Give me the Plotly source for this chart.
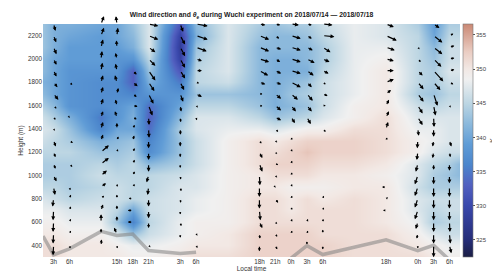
import plotly.graph_objects as go

# ---------------- data ----------------
# theta_e grid: heights 300..2300 m every 100 m, one list per time (hours from start)
grid_heights = list(range(300, 2301, 100))
grid_times = [1, 3, 6, 12, 15, 18, 21, 27, 30, 36, 42, 45, 48, 51, 54, 60, 66, 72, 75, 78, 80]

th_t01 = [351, 351, 350, 349, 348, 347, 345, 344, 344, 345, 346, 347, 346, 344, 342, 341, 342, 342, 343, 343, 343]
th_t03 = [351, 351, 350, 349, 348, 346, 345, 344, 344, 345, 345, 346, 344, 342, 340, 340, 340, 340, 341, 341, 341]
th_t06 = [350, 350, 349, 348, 347, 345, 344, 344, 344, 345, 344, 343, 341, 338, 338, 338, 338, 339, 339, 340, 341]
th_t12 = [350, 350, 349, 348, 347, 346, 345, 346, 345, 343, 341, 336, 335, 337, 337, 337, 338, 339, 339, 339, 340]
th_t15 = [350, 349, 347, 343, 345, 346, 346, 345, 344, 343, 342, 340, 338, 338, 337, 337, 338, 338, 339, 340, 340]
th_t18 = [349, 348, 343, 336, 340, 345, 345, 345, 345, 344, 343, 340, 341, 340, 336, 333, 333, 338, 341, 342, 343]
th_t21 = [349, 348, 346, 345, 346, 346, 345, 345, 342, 337, 336, 334, 333, 334, 338, 341, 343, 345, 347, 347, 347]
th_t27 = [350, 349, 348, 348, 347, 347, 347, 346, 344, 343, 343, 344, 342, 340, 338, 335, 332, 329, 328, 329, 332]
th_t30 = [351, 350, 349, 349, 348, 348, 347, 347, 346, 346, 346, 347, 347, 345, 343, 345, 345, 344, 343, 341, 342]
th_t36 = [351, 350, 350, 349, 349, 349, 349, 349, 349, 349, 349, 348, 347, 345, 343, 346, 347, 347, 347, 347, 347]
th_t42 = [352, 352, 352, 351, 351, 351, 350, 350, 351, 351, 351, 348, 345, 343, 342, 342, 342, 342, 342, 343, 344]
th_t45 = [352, 352, 352, 351, 351, 351, 350, 351, 352, 351, 350, 347, 343, 341, 341, 341, 341, 341, 342, 342, 343]
th_t48 = [352, 352, 352, 351, 350, 350, 349, 351, 352, 352, 351, 348, 344, 342, 343, 342, 341, 341, 342, 342, 344]
th_t51 = [352, 352, 352, 351, 351, 351, 349, 351, 352, 353, 352, 349, 345, 343, 344, 343, 341, 342, 342, 343, 344]
th_t54 = [352, 352, 351, 351, 351, 350, 349, 350, 351, 352, 352, 349, 347, 346, 346, 346, 345, 344, 344, 345, 346]
th_t60 = [351, 351, 351, 351, 351, 351, 350, 350, 351, 352, 352, 351, 349, 349, 348, 348, 348, 348, 348, 348, 348]
th_t66 = [351, 351, 351, 350, 350, 350, 350, 349, 350, 351, 351, 351, 351, 350, 350, 350, 350, 349, 348, 347, 347]
th_t72 = [351, 350, 349, 348, 347, 347, 346, 347, 347, 349, 349, 348, 347, 346, 344, 345, 345, 345, 345, 345, 344]
th_t75 = [350, 349, 347, 344, 345, 346, 344, 344, 345, 347, 348, 348, 347, 345, 343, 344, 344, 343, 342, 340, 339]
th_t78 = [349, 348, 346, 345, 346, 346, 344, 343, 344, 346, 347, 347, 347, 346, 345, 346, 347, 346, 346, 345, 344]
th_t80 = [349, 348, 346, 345, 346, 346, 344, 342, 342, 346, 347, 347, 347, 346, 345, 346, 347, 346, 346, 345, 344]

# wind (u, v) at sounding times, levels 400..2300 m every 100 m
wind_heights = list(range(400, 2301, 100))
sounding_times = [3, 6, 12, 15, 18, 21, 27, 30, 42, 45, 48, 51, 54, 66, 72, 75, 78]

u03 = [-0.5, -0.5, -0.5, -0.5, -1, 1.5, 3, 2, 2, 2.3, 1.5, 2, 3, 5, 4, 3, 3, 3, 2.7, 2]
v03 = [-10, -10, -10, -10, -8, -8, -6, -5, -5, -6, -2, -2.5, -3, -6, -5, -6, -6, -7, -6.7, -7]
u06 = [1, 1.5, 1.5, 1.5, 1.5, 1, 0, 3, 0.5, 3.5, 1, 0.5, 0.5, 1, 3, 0, -0.5, 0.5, 1, 0.5]
v06 = [-3, 3, 3, 4, 4, -3, -2, -3, -0.5, -2.5, -1, -0.5, 0.2, -1, -2.5, -2, -1.5, -1, 0.5, 0.2]
u12 = [0.5, 0, 0, 2, 3, 5, 6, 8, 8, 2, 2, 2, 2, 2, 2, 1.5, 1, 2, 3, 3]
v12 = [6, 5, 8, 6, 3, 4, 5, 6, 7, 6, 7, 6, 7, 7, 7, 8, 8, 8, 8, 8]
u15 = [0.5, -3, 0, 0, 0, 0.5, 0.5, 1, 1, 1.5, 0, -2, -1.5, 1.5, -2, -1.5, -1.5, -0.5, 1, -1]
v15 = [-3, 6, 6, 5, 4, 3, 2, 2, 3, 4, 6, 6, 6, 6, 7, 7, 6, 7, 8, 8]
u18 = [2, 1, -5, -5, -4, 2, 2, 2, 2, 1.5, 2, 4, 5, 4, 5, 4, 1, 1, 1.5, 1]
v18 = [-1, 1, 0, 0, 0.5, 3, 4, 4, 4, 5, 4, -2, -1, -3, -4, -4, -2, 1.5, 1.5, 1]
u21 = [2, 0.5, 0, 0, 0, -1, -2, 0, 0, 0, 0.5, 0.5, 4, 5, 6, 7, 7, 7, 10, 10]
v21 = [-2, -1, -6, -8, -8, -8, -7, -8, -8, -8, -9, -8, -10, -10, -9, -10, -7, -5, -4, -2]
u27 = [1, 0, 1, 0, 0.5, 1, 0.5, 0, 0, 0, 0.3, 0.5, 1, 3, 4, 5, 5, 5, 5, 3]
v27 = [-2, -4, -4, -4, -4, -4, -4, -4, -5, -6, -6, -5, -6, -8, -8, -8, -9, -9, -9, -8]
u30 = [1.5, 1.5, 1, 0.5, 0.3, 0.3, 0.3, 0.3, 0.3, 0.3, 0.3, 0.7, 2, 6, 3, 6, 6, 11, 12, 12]
v30 = [-2.5, -2, -2, -1, -0.5, -0.5, -0.5, -0.5, -0.5, -0.5, -0.3, -3, -2, -3, -1, 0, -2, -4, -4, -2]
u42 = [0, 0.5, 3, 1, 0, 0, 0.5, 3, 3, 2, 2, 2, 3, 3, 6, 9, 10, 10, 10, 6]
v42 = [-6, -5, -6, -10, -10, -10, -10, -8, -6, -3, -1, 1, -0.5, 0, -2, -5, -3, -4, -4, -1]
u45 = [2, 2, 2, 0.5, 3, 0.5, 2, 3, 2, 2, 3, 6, 6, 6, 6, 6, 5, 6, 4, 5]
v45 = [-4, -3, -2, -0.5, -4, -0.5, -2, -1, -2, -2, -3, -3, -5, -5, -2, -3, -3, -2, -3, -1]
u48 = [1, 1, 1, 1, 1, 1, 1, 1, 1, 1, 1, 4, 5, 7, 10, 10, 10, 10, 10, 8]
v48 = [2, 3, 3, 3, 3, 3, 3, 3, 3, 3, -1, -6, -6, -6, -5, -3, -3, -3, -3, -1]
u51 = [0, 1, 1, 1, 2, 2, 0.5, 0.5, 0.5, 1, 0.5, 4, 5, 6, 5, 7, 8, 6, 5, 5]
v51 = [4, 3, 3, 2, -0.5, 0.5, 0.5, 0.5, 2, 2, -1, -7, -6, -7, -5, -5, -4, -3, -3, -1]
u54 = [0, 0, 0.5, 1, 1, 0.5, 0.5, 0.5, 0.5, 0.5, 3, 1.5, 3, 5, 3, 6, 7, 8, 12, 10]
v54 = [-4, 4, 3, 3, 3, 2, 1, 0.5, -0.5, -0.5, -3, -1.5, 0, -2, -2, -3, -3, -5, -1, -1]
u66 = [0.5, 0.5, 1, -3, 2, -4, 2, 0.5, 0.5, 1, 2, 3, 3, 5, 8, 8, 8, 9, 11, 8]
v66 = [0.5, -0.5, -2, 0, 1.5, 0, -1, 0.5, 0.5, 3, 7, 6, 6, 4, 3, 0, -2, -3, -5, -3]
u72 = [0, -1, -2, -3, -3, -3, -3, -2, -1, -0.5, 1, 5, 5, 6, 6, 5, 3, 2, 0.5, 0.3]
v72 = [-3, -5, -7, -9, -9, -9, -9, -8, -8, -8, -7, -8, -8, -8, -7, -5, -3, -2, 0.5, 0.5]
u75 = [0, 0, 0, 0, 0, 0, 0, 0, -1, -1, 0, 0.5, 2, 4, 7, 10, 8, 9, 9, 6]
v75 = [-12, -10, -10, -10, -10, -10, -9, -6, -6, -6, -8, -10, -10, -12, -8, -11, -8, -7, -7, -4]
u78 = [2, 1, 0.5, 0, 0, 0, 0, 0, 1, 2, 0.5, 0.5, 1.5, 2, 4, 5, 5, 5, 4, 1]
v78 = [-8, -10, -10, -10, -10, -10, -8, -7, -5, -6, -1, -1, -2, -1, -2, 1, 1, 1.5, 2, 1]

# terrain height under the sounding track (None = no data)
terrain_t = [1, 3, 6, 12, 15, 18, 21, 27, 30, 39, 48, 51, 54, 66, 72, 75, 78]
terrain_h = [480, 318, 370, 520, 485, 497, 355, 330, 341, None, 290, 397, 321, 448, 355, 400, 275]

tick_vals = [3, 6, 15, 18, 21, 27, 30, 42, 45, 48, 51, 54, 66, 72, 75, 78]
tick_text = ["3h", "6h", "15h", "18h", "21h", "3h", "6h", "18h", "21h", "0h", "3h", "6h", "18h", "0h", "3h", "6h"]

# ---------------- figure ----------------
th_cols = [th_t01, th_t03, th_t06, th_t12, th_t15, th_t18, th_t21, th_t27, th_t30, th_t36,
           th_t42, th_t45, th_t48, th_t51, th_t54, th_t60, th_t66, th_t72, th_t75, th_t78, th_t80]
z = [[col[i] for col in th_cols] for i in range(len(grid_heights))]

u_cols = [u03, u06, u12, u15, u18, u21, u27, u30, u42, u45, u48, u51, u54, u66, u72, u75, u78]
v_cols = [v03, v06, v12, v15, v18, v21, v27, v30, v42, v45, v48, v51, v54, v66, v72, v75, v78]

CMIN, CMAX = 322.5, 356.6
def s(v):
    return (v - CMIN) / (CMAX - CMIN)
colorscale = [
    [0.0, "#1b1e44"],
    [s(325), "#262d78"],
    [s(330), "#3a48ac"],
    [s(333), "#5260c0"],
    [s(336), "#4c86cc"],
    [s(339), "#609cd6"],
    [s(342), "#8cb9dc"],
    [s(345), "#bdd6e3"],
    [s(348.5), "#f0f0f0"],
    [s(350), "#f2e8e4"],
    [s(352.5), "#eacdc3"],
    [1.0, "#ca8874"],
]

fig = go.Figure()
fig.add_trace(go.Heatmap(
    x=grid_times, y=grid_heights, z=z, zsmooth="best",
    colorscale=colorscale, zmin=CMIN, zmax=CMAX,
    colorbar=dict(
        x=1.008, xanchor="left", xpad=0, y=0.5, yanchor="middle", len=1.0, ypad=0,
        thickness=10, outlinewidth=0.6, outlinecolor="#777",
        tickvals=[325, 330, 335, 340, 345, 350, 355], ticks="outside", ticklen=2,
        tickcolor="#555", tickfont=dict(size=6, color="#444", family="Liberation Sans"),
        title=dict(text="K", side="right", font=dict(size=7, color="#333", family="Liberation Sans")),
    ),
    showscale=True,
))

fig.add_trace(go.Scatter(
    x=terrain_t, y=terrain_h, mode="lines", connectgaps=False,
    line=dict(color="rgba(130,130,130,0.55)", width=3.5), showlegend=False, hoverinfo="skip",
))

# wind arrows (pixel scale converted to data units)
PLOT_W = 500 - 31 - 39.3
PLOT_H = 276 - 16 - 23.3
X_RANGE = (1, 80)
Y_RANGE = (300, 2300)
px_per_h = PLOT_W / (X_RANGE[1] - X_RANGE[0])
px_per_m = PLOT_H / (Y_RANGE[1] - Y_RANGE[0])
PX_PER_MS = 1.0

annotations = []
for t, us, vs in zip(sounding_times, u_cols, v_cols):
    for h, u, v in zip(wind_heights, us, vs):
        L = (u * u + v * v) ** 0.5 * PX_PER_MS
        annotations.append(dict(
            x=t + u * PX_PER_MS / px_per_h, y=h + v * PX_PER_MS / px_per_m,
            ax=t, ay=h, xref="x", yref="y", axref="x", ayref="y",
            text="", showarrow=True, arrowhead=2,
            arrowsize=max(0.35, min(0.65, 0.085 * L)), arrowwidth=1.2,
            arrowcolor="black", standoff=0, startstandoff=0,
        ))

fig.update_layout(
    width=500, height=276,
    margin=dict(l=31, r=39.3, t=16, b=23.3),
    paper_bgcolor="white", plot_bgcolor="white",
    font=dict(family="Liberation Sans", color="#262626"),
    title=dict(
        text="<b>Wind direction and <i>θ</i><sub>e</sub> during Wuchi experiment on 2018/07/14 — 2018/07/18</b>",
        x=0.5, xanchor="center", xref="paper", y=1 - 7 / 276, yref="container", yanchor="middle",
        font=dict(size=6.8, color="#1a1a1a"),
    ),
    xaxis=dict(
        range=list(X_RANGE), tickvals=tick_vals, ticktext=tick_text, showgrid=False, zeroline=False,
        ticks="", tickfont=dict(size=6.3, color="#333"),
        title=dict(text="Local time", font=dict(size=6.5, color="#333"), standoff=2),
    ),
    yaxis=dict(
        range=list(Y_RANGE), tickvals=list(range(400, 2201, 200)), showgrid=False, zeroline=False,
        ticks="", tickfont=dict(size=6.3, color="#333"),
        title=dict(text="Height (m)", font=dict(size=6.5, color="#333"), standoff=3),
    ),
    annotations=annotations,
    showlegend=False,
)

fig.write_html("out.html")
